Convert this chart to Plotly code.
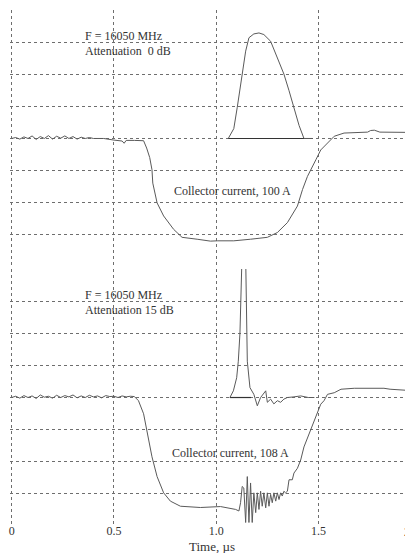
import plotly.graph_objects as go
from plotly.subplots import make_subplots

# ---------------- data (time in µs, signal in grid divisions) ----------------
# Top panel: attenuation 0 dB, collector current 100 A
cur_top_t = [0.00, 0.02, 0.04, 0.06, 0.08, 0.10, 0.12, 0.14, 0.16, 0.18, 0.20, 0.22,
             0.24, 0.26, 0.28, 0.30, 0.32, 0.34, 0.36, 0.38, 0.40, 0.45, 0.50, 0.54,
             0.55, 0.56, 0.60, 0.645, 0.66, 0.675, 0.686, 0.69, 0.711, 0.743, 0.792,
             0.833, 0.907, 0.972, 1.005, 1.086, 1.168, 1.25, 1.299, 1.348, 1.397,
             1.422, 1.446, 1.471, 1.487, 1.511, 1.544, 1.577, 1.625, 1.74, 1.755,
             1.773, 1.80, 1.96, 1.97]
cur_top_v = [0.00, 0.03, -0.02, 0.05, 0.00, 0.08, -0.03, 0.06, 0.00, 0.09, -0.02, 0.07,
             0.01, 0.08, 0.00, 0.06, -0.02, 0.04, 0.00, 0.03, 0.00, 0.00, -0.05, -0.08,
             -0.15, -0.06, -0.06, -0.07, -0.30, -0.60, -0.98, -1.40, -2.02, -2.43, -2.85,
             -3.10, -3.16, -3.22, -3.21, -3.21, -3.16, -3.10, -2.95, -2.64, -2.12,
             -1.60, -1.19, -0.90, -0.67, -0.36, -0.16, 0.07, 0.17, 0.20, 0.25,
             0.26, 0.20, 0.19, 0.12]

det_top_t = [1.059, 1.086, 1.103, 1.119, 1.132, 1.144, 1.160, 1.184, 1.209, 1.233,
             1.266, 1.299, 1.331, 1.356, 1.380, 1.405, 1.429, 1.47]
det_top_v = [0.00, 0.31, 0.98, 1.71, 2.22, 2.74, 3.16, 3.28, 3.31, 3.26,
             3.05, 2.53, 2.02, 1.50, 0.98, 0.41, 0.00, 0.00]
ref_top_t = [1.059, 1.47]
ref_top_v = [0.0, 0.0]

# Bottom panel: attenuation 15 dB, collector current 108 A
cur_bot_t = [0.00, 0.02, 0.04, 0.06, 0.08, 0.10, 0.12, 0.14, 0.16, 0.18, 0.20, 0.22,
             0.24, 0.26, 0.28, 0.30, 0.32, 0.34, 0.36, 0.38, 0.40, 0.42, 0.44, 0.46,
             0.48, 0.50, 0.52, 0.54, 0.56, 0.58, 0.60, 0.62, 0.645, 0.662, 0.686,
             0.711, 0.743, 0.776, 0.825, 0.923, 1.021, 1.095, 1.111, 1.119, 1.127,
             1.135, 1.144, 1.152, 1.160, 1.168, 1.176, 1.184, 1.193, 1.201, 1.209,
             1.217, 1.225, 1.233, 1.242, 1.250, 1.258, 1.266, 1.274, 1.282, 1.291,
             1.299, 1.307, 1.315, 1.323, 1.331, 1.339, 1.348, 1.356, 1.372, 1.380,
             1.397, 1.413, 1.429, 1.454, 1.478, 1.487, 1.503, 1.511, 1.527, 1.544,
             1.577, 1.61, 1.675, 1.82, 1.85, 1.953, 1.97]
cur_bot_v = [0.00, 0.04, -0.02, 0.06, 0.00, 0.05, -0.03, 0.08, 0.01, 0.04, -0.02, 0.07,
             0.00, 0.06, 0.02, 0.08, -0.01, 0.05, 0.00, 0.07, 0.02, 0.05, -0.01, 0.06,
             0.03, 0.04, 0.00, 0.05, 0.02, 0.04, 0.03, -0.10, -0.51, -1.03, -1.86,
             -2.48, -2.99, -3.25, -3.41, -3.45, -3.42, -3.51, -3.56, -3.30, -2.79,
             -2.84, -3.92, -2.48, -3.92, -2.68, -3.92, -2.99, -3.61, -2.99, -3.51,
             -2.94, -3.41, -2.99, -3.46, -2.99, -3.41, -3.04, -3.30, -2.99, -3.25,
             -2.99, -3.20, -2.99, -3.09, -2.94, -2.99, -2.94, -2.58, -2.58, -2.37,
             -2.22, -1.96, -1.55, -1.13, -0.72, -0.62, -0.31, -0.21, -0.10, 0.10,
             0.15, 0.26, 0.29, 0.29, 0.26, 0.21, 0.21]

det_bot_t = [1.067, 1.084, 1.100, 1.108, 1.116, 1.123, 1.126, 1.144, 1.149, 1.152,
             1.165, 1.184, 1.201, 1.217, 1.242, 1.250, 1.266, 1.282, 1.299, 1.315,
             1.331, 1.348, 1.380, 1.413, 1.45, 1.48]
det_bot_v = [0.00, 0.21, 0.62, 1.14, 2.01, 3.20, 4.40, 4.40, 2.99, 1.14,
             0.31, 0.10, -0.26, 0.00, 0.21, -0.15, -0.05, -0.20, -0.10, -0.15,
             -0.05, 0.00, 0.02, 0.05, 0.00, 0.00]
ref_bot_t = [1.067, 1.17]
ref_bot_v = [0.0, 0.0]

x_tick_vals = [0, 0.5, 1.0, 1.5]
x_tick_text = ["0", "0.5", "1.0", "1.5"]
y_grid_vals = [-4, -3, -2, -1, 0, 1, 2, 3, 4]

# ---------------- figure ----------------
# the page body adds an 8 px margin, so the figure is sized to end at the window edge
FONT = "Liberation Serif"
LINE = "#5a5a5a"
GRID = "#6e6e6e"
TXT = "#333333"
W, H = 405, 545
ML, MT, MB = 2, 2, 27

fig = make_subplots(rows=2, cols=1, shared_xaxes=True, vertical_spacing=0.004)

def add(t, v, row, color=LINE, width=1):
    fig.add_trace(go.Scatter(x=t, y=v, mode="lines", line=dict(color=color, width=width),
                             showlegend=False, hoverinfo="skip"), row=row, col=1)

add(ref_top_t, ref_top_v, 1, color="#333333", width=1.2)
add(cur_top_t, cur_top_v, 1)
add(det_top_t, det_top_v, 1)
add(ref_bot_t, ref_bot_v, 2, color="#333333", width=1.2)
add(cur_bot_t, cur_bot_v, 2)
add(det_bot_t, det_bot_v, 2)

xr = [-0.008, 1.962]
for r in (1, 2):
    fig.update_xaxes(range=xr, tickvals=x_tick_vals, ticktext=x_tick_text,
                     showgrid=True, gridcolor=GRID, griddash="dot", gridwidth=1,
                     zeroline=False, showline=False, ticks="",
                     showticklabels=(r == 2), ticklabelstandoff=-4,
                     tickfont=dict(family=FONT, size=12, color=TXT),
                     row=r, col=1)
    fig.update_yaxes(range=[-4.03, 4.03], tickvals=y_grid_vals, showticklabels=False,
                     showgrid=True, gridcolor=GRID, griddash="dot", gridwidth=1,
                     zeroline=False, showline=False, ticks="", row=r, col=1)

ann = []
def note(text, x, y, yref, xanchor="left"):
    ann.append(dict(text=text, x=x, y=y, xref="x", yref=yref, xanchor=xanchor,
                    yanchor="middle", showarrow=False,
                    font=dict(family=FONT, size=12, color=TXT)))

note("F = 16050 MHz", 0.35, 3.2, "y")
note("Attenuation  0 dB", 0.35, 2.73, "y")
note("Collector current, 100 A", 0.785, -1.65, "y")
note("F = 16050 MHz", 0.35, 3.2, "y2")
note("Attenuation 15 dB", 0.35, 2.75, "y2")
note("Collector current, 108 A", 0.772, -1.74, "y2")

plot_w = W - ML
plot_h = H - MT - MB
ann.append(dict(text="2.0", x=(394 - ML) / plot_w, y=-(524 - (H - MB)) / plot_h,
                xref="paper", yref="paper",
                showarrow=False, xanchor="left", yanchor="middle",
                font=dict(family=FONT, size=12, color=TXT)))
ann.append(dict(text="Time, µs", x=(204 - ML) / plot_w, y=-(538 - (H - MB)) / plot_h,
                xref="paper", yref="paper",
                showarrow=False, xanchor="center", yanchor="middle",
                font=dict(family=FONT, size=13, color=TXT)))

fig.update_layout(
    width=W, height=H,
    margin=dict(l=ML, r=0, t=MT, b=MB),
    paper_bgcolor="white", plot_bgcolor="white",
    annotations=ann,
    showlegend=False,
)

fig.write_html("out.html")
